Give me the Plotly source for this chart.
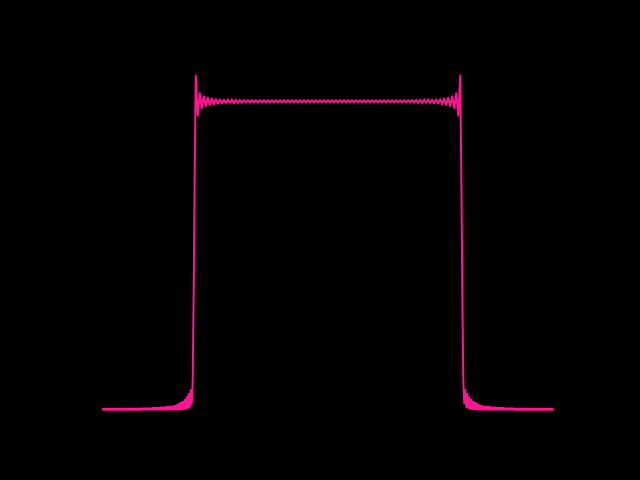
import numpy as np
import plotly.graph_objects as go

# Sampling grid of the curve (451 samples across the plotted span)
x_start, x_stop, n_samples = -5.0, 5.0, 451

# Values (0 = baseline, 1 = plateau)
bottom_left = [
    0.006, 0.000, 0.006, 0.000, 0.006, 0.000, 0.006, 0.000, 0.006, 0.000,
    0.006, 0.000, 0.006, 0.000, 0.006, 0.000, 0.006, 0.000, 0.006, 0.000,
    0.007, 0.000, 0.007, 0.000, 0.007, 0.000, 0.007, 0.000, 0.007, 0.000,
    0.007, 0.000, 0.007, 0.000, 0.007, 0.000, 0.007, 0.000, 0.007, 0.000,
    0.008, 0.000, 0.008, 0.000, 0.008, 0.000, 0.008, 0.000, 0.008, 0.000,
    0.009, 0.000, 0.009, 0.000, 0.009, 0.000, 0.009, 0.000, 0.011, 0.000,
    0.011, 0.000, 0.011, 0.000, 0.013, 0.000, 0.013, 0.000, 0.014, 0.000,
    0.014, 0.000, 0.016, 0.000, 0.019, 0.000, 0.022, 0.000, 0.026, 0.001,
    0.030, 0.002, 0.036, 0.003, 0.044, 0.005, 0.055, 0.008, 0.068, 0.020,
]
rise_left = [0.100, 0.400, 0.780]
top_left = [
    1.090, 1.022, 0.955, 0.994,
    1.032, 1.006, 0.980, 1.001,
    1.022, 1.005, 0.987, 1.002,
    1.017, 1.004, 0.990, 1.002,
    1.014, 1.004, 0.993, 1.003,
    1.012, 1.004, 0.995, 1.003,
    1.011, 1.004, 0.996, 1.003,
    1.010, 1.004, 0.997, 1.003,
    1.009, 1.004, 0.998, 1.004,
    1.009, 1.004, 0.998, 1.003,
    1.008, 1.004, 0.999, 1.004,
    1.008, 1.004, 0.999, 1.004,
]
top_middle = [
    1.007, 1.004, 1.000, 1.004, 1.007, 1.004, 1.000, 1.004, 1.007, 1.004, 1.000, 1.004,
    1.007, 1.004, 1.000, 1.004, 1.007, 1.004, 1.000, 1.004, 1.007, 1.004, 1.000, 1.004,
    1.007, 1.004, 1.000, 1.004, 1.007, 1.004, 1.000, 1.004, 1.007, 1.004, 1.000, 1.004,
    1.007, 1.004, 1.000, 1.004, 1.007, 1.004, 1.000, 1.004, 1.007, 1.004, 1.000, 1.004,
    1.007, 1.004, 1.000, 1.004, 1.007, 1.004, 1.000, 1.004, 1.007, 1.004, 1.000, 1.004,
    1.007, 1.004, 1.000, 1.004, 1.007, 1.004, 1.000, 1.004, 1.007, 1.004, 1.000, 1.004,
    1.007, 1.004, 1.000, 1.004, 1.007, 1.004, 1.000, 1.004, 1.007, 1.004, 1.000, 1.004,
    1.007, 1.004, 1.000, 1.004, 1.007, 1.004, 1.000, 1.004, 1.007, 1.004, 1.000, 1.004,
    1.007, 1.004, 1.000, 1.004, 1.007, 1.004, 1.000, 1.004, 1.007, 1.004, 1.000, 1.004,
    1.007, 1.004, 1.000, 1.004, 1.007, 1.004, 1.000, 1.004, 1.007, 1.004, 1.000, 1.004,
    1.007, 1.004, 1.000, 1.004, 1.007, 1.004, 1.000, 1.004, 1.007, 1.004, 1.000, 1.004,
    1.007, 1.004, 1.000, 1.004, 1.007, 1.004, 1.000, 1.004, 1.007, 1.004, 1.000, 1.004,
    1.007, 1.004, 1.000, 1.004, 1.007, 1.004, 1.000, 1.004, 1.007, 1.004, 1.000, 1.004,
    1.007, 1.004, 1.000, 1.004, 1.007, 1.004, 1.000, 1.004, 1.007, 1.004, 1.000, 1.004,
    1.007,
]
top_right = [
    1.004, 0.999, 1.004, 1.008,
    1.004, 0.999, 1.004, 1.008,
    1.003, 0.998, 1.004, 1.009,
    1.004, 0.998, 1.004, 1.009,
    1.003, 0.997, 1.004, 1.010,
    1.003, 0.996, 1.004, 1.011,
    1.003, 0.995, 1.004, 1.012,
    1.003, 0.993, 1.004, 1.014,
    1.002, 0.990, 1.004, 1.017,
    1.002, 0.987, 1.005, 1.022,
    1.001, 0.980, 1.006, 1.032,
    0.994, 0.955, 1.022, 1.090,
]
fall_right = [0.780, 0.400, 0.100]
bottom_right = [
    0.020, 0.068, 0.008, 0.055, 0.005, 0.044, 0.003, 0.036, 0.002, 0.030,
    0.001, 0.026, 0.000, 0.022, 0.000, 0.019, 0.000, 0.016, 0.000, 0.014,
    0.000, 0.014, 0.000, 0.013, 0.000, 0.013, 0.000, 0.011, 0.000, 0.011,
    0.000, 0.011, 0.000, 0.009, 0.000, 0.009, 0.000, 0.009, 0.000, 0.009,
    0.000, 0.008, 0.000, 0.008, 0.000, 0.008, 0.000, 0.008, 0.000, 0.008,
    0.000, 0.007, 0.000, 0.007, 0.000, 0.007, 0.000, 0.007, 0.000, 0.007,
    0.000, 0.007, 0.000, 0.007, 0.000, 0.007, 0.000, 0.007, 0.000, 0.007,
    0.000, 0.006, 0.000, 0.006, 0.000, 0.006, 0.000, 0.006, 0.000, 0.006,
    0.000, 0.006, 0.000, 0.006, 0.000, 0.006, 0.000, 0.006, 0.000, 0.006,
]

y = np.array(bottom_left + rise_left + top_left + top_middle + top_right
             + fall_right + bottom_right)
x = np.linspace(x_start, x_stop, n_samples)
assert len(y) == len(x), (len(y), len(x))

fig = go.Figure(go.Scatter(
    x=x, y=y, mode="lines",
    line=dict(color="#ff1493", width=2, simplify=False),
    hoverinfo="skip",
))

def padded(lo, hi, frac=0.05):
    span = hi - lo
    return [lo - frac * span, hi + frac * span]

fig.update_layout(
    width=640, height=480,
    paper_bgcolor="black", plot_bgcolor="black",
    margin=dict(l=80, r=64, t=58, b=53),
    showlegend=False,
    xaxis=dict(visible=False, range=padded(x.min(), x.max())),
    yaxis=dict(visible=False, range=padded(y.min(), y.max())),
)

fig.write_html(
    "out.html",
    config={"displayModeBar": False},
    post_script="document.body.style.margin='0';document.body.style.background='black';",
)
